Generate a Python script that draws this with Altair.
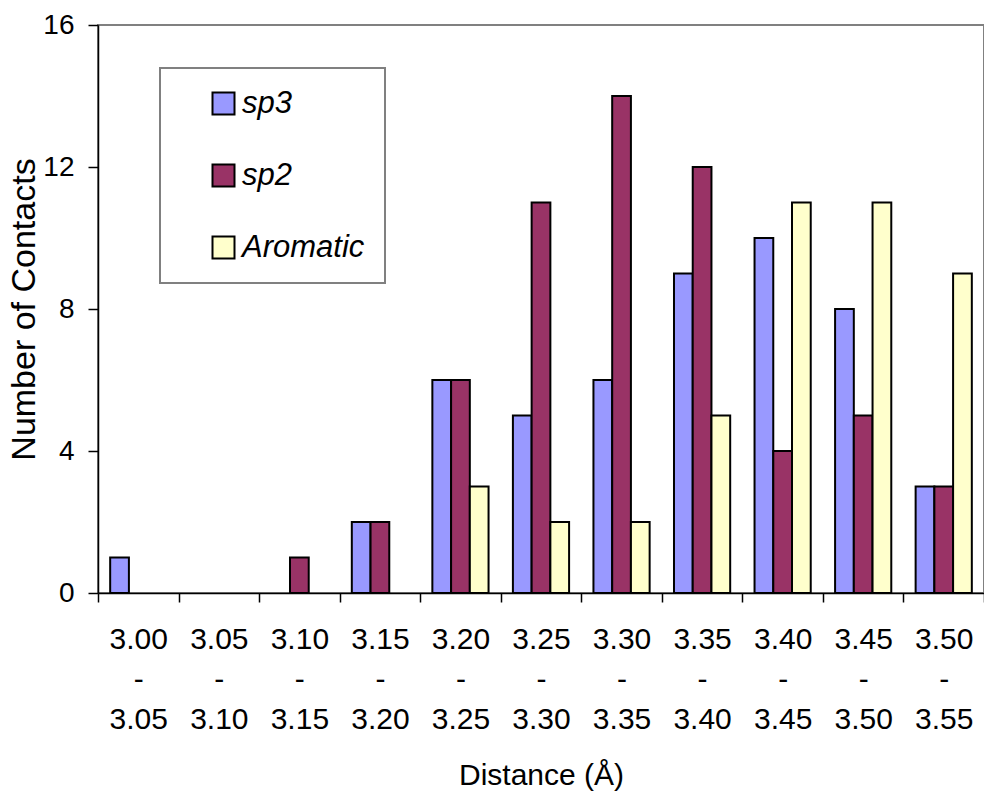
import altair as alt
import pandas as pd

categories = ["3.00|-|3.05", "3.05|-|3.10", "3.10|-|3.15", "3.15|-|3.20", "3.20|-|3.25",
              "3.25|-|3.30", "3.30|-|3.35", "3.35|-|3.40", "3.40|-|3.45", "3.45|-|3.50",
              "3.50|-|3.55"]
series = ["sp3", "sp2", "Aromatic"]
sp3 = [1, 0, 0, 2, 6, 5, 6, 9, 10, 8, 3]
sp2 = [0, 0, 1, 2, 6, 11, 14, 12, 4, 5, 3]
aromatic = [0, 0, 0, 0, 3, 2, 2, 5, 11, 11, 9]
colors = ["#9999FF", "#993366", "#FFFFCC"]

rows = []
for name, vals in zip(series, [sp3, sp2, aromatic]):
    for c, v in zip(categories, vals):
        rows.append({"Distance": c, "Series": name, "Count": v})
df = pd.DataFrame(rows)

FONT = "Liberation Sans"

chart = alt.Chart(df).transform_filter("datum.Count > 0").mark_bar(
    stroke="black", strokeWidth=2
).encode(
    x=alt.X("Distance:N", sort=categories,
            scale=alt.Scale(domain=categories, paddingInner=0, paddingOuter=0),
            axis=alt.Axis(title="Distance (Å)", labelAngle=0, tickBand="extent",
                          labelExpr="split(datum.label, '|')",
                          labelLineHeight=40, labelFontSize=30, labelPadding=22,
                          tickSize=9, titleFontSize=30, titlePadding=26,
                          titleFontWeight="normal")),
    xOffset=alt.XOffset("Series:N", sort=series,
                        scale=alt.Scale(domain=series, paddingInner=0, paddingOuter=0.65)),
    y=alt.Y("Count:Q", scale=alt.Scale(domain=[0, 16]),
            axis=alt.Axis(title="Number of Contacts", values=[0, 4, 8, 12, 16],
                          grid=False, labelFontSize=28, tickSize=10, labelPadding=14,
                          titleFontSize=34, titlePadding=1, titleFontWeight="normal")),
    color=alt.Color("Series:N", sort=series,
                    scale=alt.Scale(domain=series, range=colors),
                    legend=alt.Legend(title=None, orient="none", legendX=62, legendY=43,
                                      padding=20, symbolOffset=28, rowPadding=40,
                                      symbolType="square", symbolSize=484,
                                      symbolStrokeColor="black", symbolStrokeWidth=2,
                                      labelFontSize=31, labelFontStyle="italic",
                                      labelOffset=3, strokeColor="#808080",
                                      fillColor="white")),
).properties(
    width=886, height=568,
    autosize=alt.AutoSizeParams(type="none"),
    padding={"left": 98, "top": 25, "right": 0, "bottom": 204},
).configure(
    font=FONT,
).configure_axis(
    labelFont=FONT, titleFont=FONT, labelColor="black", titleColor="black",
    domainColor="black", tickColor="black", domainWidth=1.5, tickWidth=1.5,
).configure_legend(
    labelFont=FONT, labelColor="black", strokeWidth=2,
).configure_view(
    stroke="#808080", strokeWidth=2,
).configure_scale(
    bandPaddingInner=0,
)

chart.save("out.html", embed_options={"renderer": "svg", "actions": False})
